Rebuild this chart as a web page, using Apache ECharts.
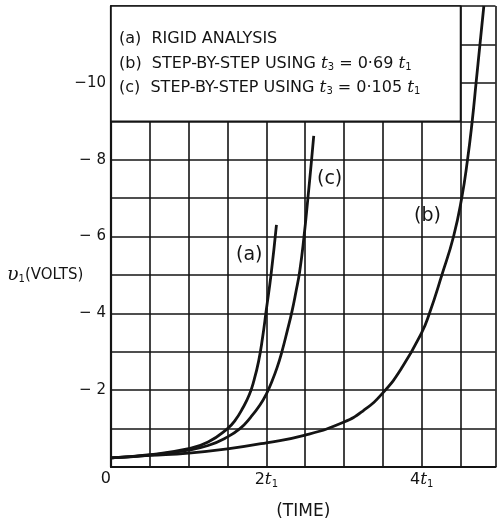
<!DOCTYPE html>
<html><head><meta charset="utf-8">
<script src="https://cdn.jsdelivr.net/npm/echarts@6/dist/echarts.min.js"></script>
<style>html,body{margin:0;padding:0;background:#fff}#c{width:497px;height:522px}</style>
</head><body><div id="c"></div>
<script>
// Curve (a): rigid analysis
const tA = [0, 0.5, 1.0, 1.25, 1.5, 1.6, 1.7, 1.78, 1.84, 1.9, 1.95, 2.0, 2.06, 2.13];
const vA = [-0.24, -0.32, -0.48, -0.65, -1.0, -1.22, -1.55, -1.88, -2.25, -2.75, -3.35, -4.1, -5.0, -6.3];
// Curve (b): step-by-step, t3 = 0.69 t1
const tB = [0, 0.5, 1.0, 1.5, 2.0, 2.5, 3.0, 3.25, 3.5, 3.75, 4.0, 4.1, 4.26, 4.41, 4.515, 4.59, 4.65, 4.70, 4.75, 4.80];
const vB = [-0.24, -0.3, -0.36, -0.47, -0.63, -0.83, -1.17, -1.47, -1.93, -2.6, -3.5, -4.0, -5.0, -6.0, -7.0, -8.0, -9.0, -10.0, -11.0, -12.0];
// Curve (c): step-by-step, t3 = 0.105 t1
const tC = [0, 0.5, 1.0, 1.25, 1.47, 1.66, 1.8, 1.92, 2.0, 2.07, 2.14, 2.2, 2.27, 2.33, 2.38, 2.43, 2.485, 2.535, 2.58, 2.61];
const vC = [-0.24, -0.31, -0.44, -0.56, -0.75, -1.0, -1.3, -1.62, -1.9, -2.22, -2.6, -3.0, -3.55, -4.05, -4.55, -5.1, -6.0, -7.0, -7.95, -8.62];

const xLabels = {0: '0', 2: '{n|2}{i|t}{s|1}', 4: '{n|4}{i|t}{s|1}'};
const yLabelValues = [-10, -8, -6, -4, -2];
const legendLines = [
  '(a)  RIGID ANALYSIS',
  '(b)  STEP-BY-STEP USING {i|t}{s|3} = 0·69 {i|t}{s|1}',
  '(c)  STEP-BY-STEP USING {i|t}{s|3} = 0·105 {i|t}{s|1}'
];
const curveLabels = ['(a)', '(b)', '(c)'];

const FONT = 'DejaVu Sans, sans-serif';
const INK = '#141414';
const zip = (t, v) => t.map((x, i) => [x, v[i]]);
const richSub = {
  n: {fontFamily: FONT, fontSize: 16, color: INK},
  i: {fontFamily: 'DejaVu Serif', fontStyle: 'italic', fontSize: 17, color: INK},
  s: {fontFamily: FONT, fontSize: 10, color: INK, padding: [8, 0, 0, 0]}
};

const chart = echarts.init(document.getElementById('c'), null, {renderer: 'canvas'});
const lineStyle = {color: INK, width: 2.8};
chart.setOption({
  animation: false,
  backgroundColor: '#fff',
  grid: {left: 111, right: 1.5, top: 6, bottom: 55, containLabel: false, outerBoundsMode: 'none'},
  xAxis: {
    type: 'value', min: 0, max: 4.95, interval: 0.5,
    axisLine: {show: true, onZero: false, lineStyle: {color: INK, width: 2.2}},
    axisTick: {show: false},
    splitLine: {show: true, lineStyle: {color: INK, width: 1.6}},
    axisLabel: {
      margin: 4, color: INK, fontFamily: FONT, fontSize: 16, showMaxLabel: false,
      alignMinLabel: 'right',
      formatter: v => xLabels[v] || '',
      rich: richSub
    },
    name: '(TIME)', nameLocation: 'middle', nameGap: 36,
    nameTextStyle: {color: INK, fontFamily: FONT, fontSize: 17}
  },
  yAxis: {
    type: 'value', min: -12, max: 0, interval: 1, inverse: true,
    axisLine: {show: true, onZero: false, lineStyle: {color: INK, width: 2.2}},
    axisTick: {show: false},
    splitLine: {show: true, lineStyle: {color: INK, width: 1.6}},
    axisLabel: {
      margin: 5, color: INK, fontFamily: FONT, fontSize: 15,
      formatter: v => yLabelValues.includes(v) ? ('\u2212' + (Math.abs(v) < 10 ? ' ' : '') + Math.abs(v)) : ''
    }
  },
  series: [
    {type: 'line', name: 'a', data: zip(tA, vA), smooth: 0.5, symbol: 'none', lineStyle,
     markArea: {silent: true, itemStyle: {color: '#fff', borderColor: INK, borderWidth: 1.6, opacity: 1},
       data: [[{coord: [0, -12]}, {coord: [4.5, -9]}]]}},
    {type: 'line', name: 'b', data: zip(tB, vB), smooth: 0.5, symbol: 'none', lineStyle},
    {type: 'line', name: 'c', data: zip(tC, vC), smooth: 0.5, symbol: 'none', lineStyle}
  ],
  graphic: [
    ...legendLines.map((txt, i) => ({
      type: 'text', left: 119, top: 31 + i * 24, z: 100,
      style: {text: txt, fill: INK, font: '16px ' + FONT, rich: richSub}
    })),
    {type: 'text', left: 236, top: 246, z: 100, style: {text: curveLabels[0], fill: INK, font: '19px ' + FONT}},
    {type: 'text', left: 414, top: 207, z: 100, style: {text: curveLabels[1], fill: INK, font: '19px ' + FONT}},
    {type: 'text', left: 317, top: 170, z: 100, style: {text: curveLabels[2], fill: INK, font: '19px ' + FONT}},
    {type: 'text', left: 7, top: 266, z: 100, style: {
      text: '{u|\u03c5}{s|1}{n|(VOLTS)}', fill: INK, rich: {
        u: {fontFamily: 'DejaVu Serif', fontStyle: 'italic', fontSize: 19, color: INK},
        s: {fontFamily: FONT, fontSize: 10, color: INK, padding: [8, 0, 0, 0]},
        n: {fontFamily: FONT, fontSize: 15, color: INK}
      }}}
  ]
});
</script></body></html>
